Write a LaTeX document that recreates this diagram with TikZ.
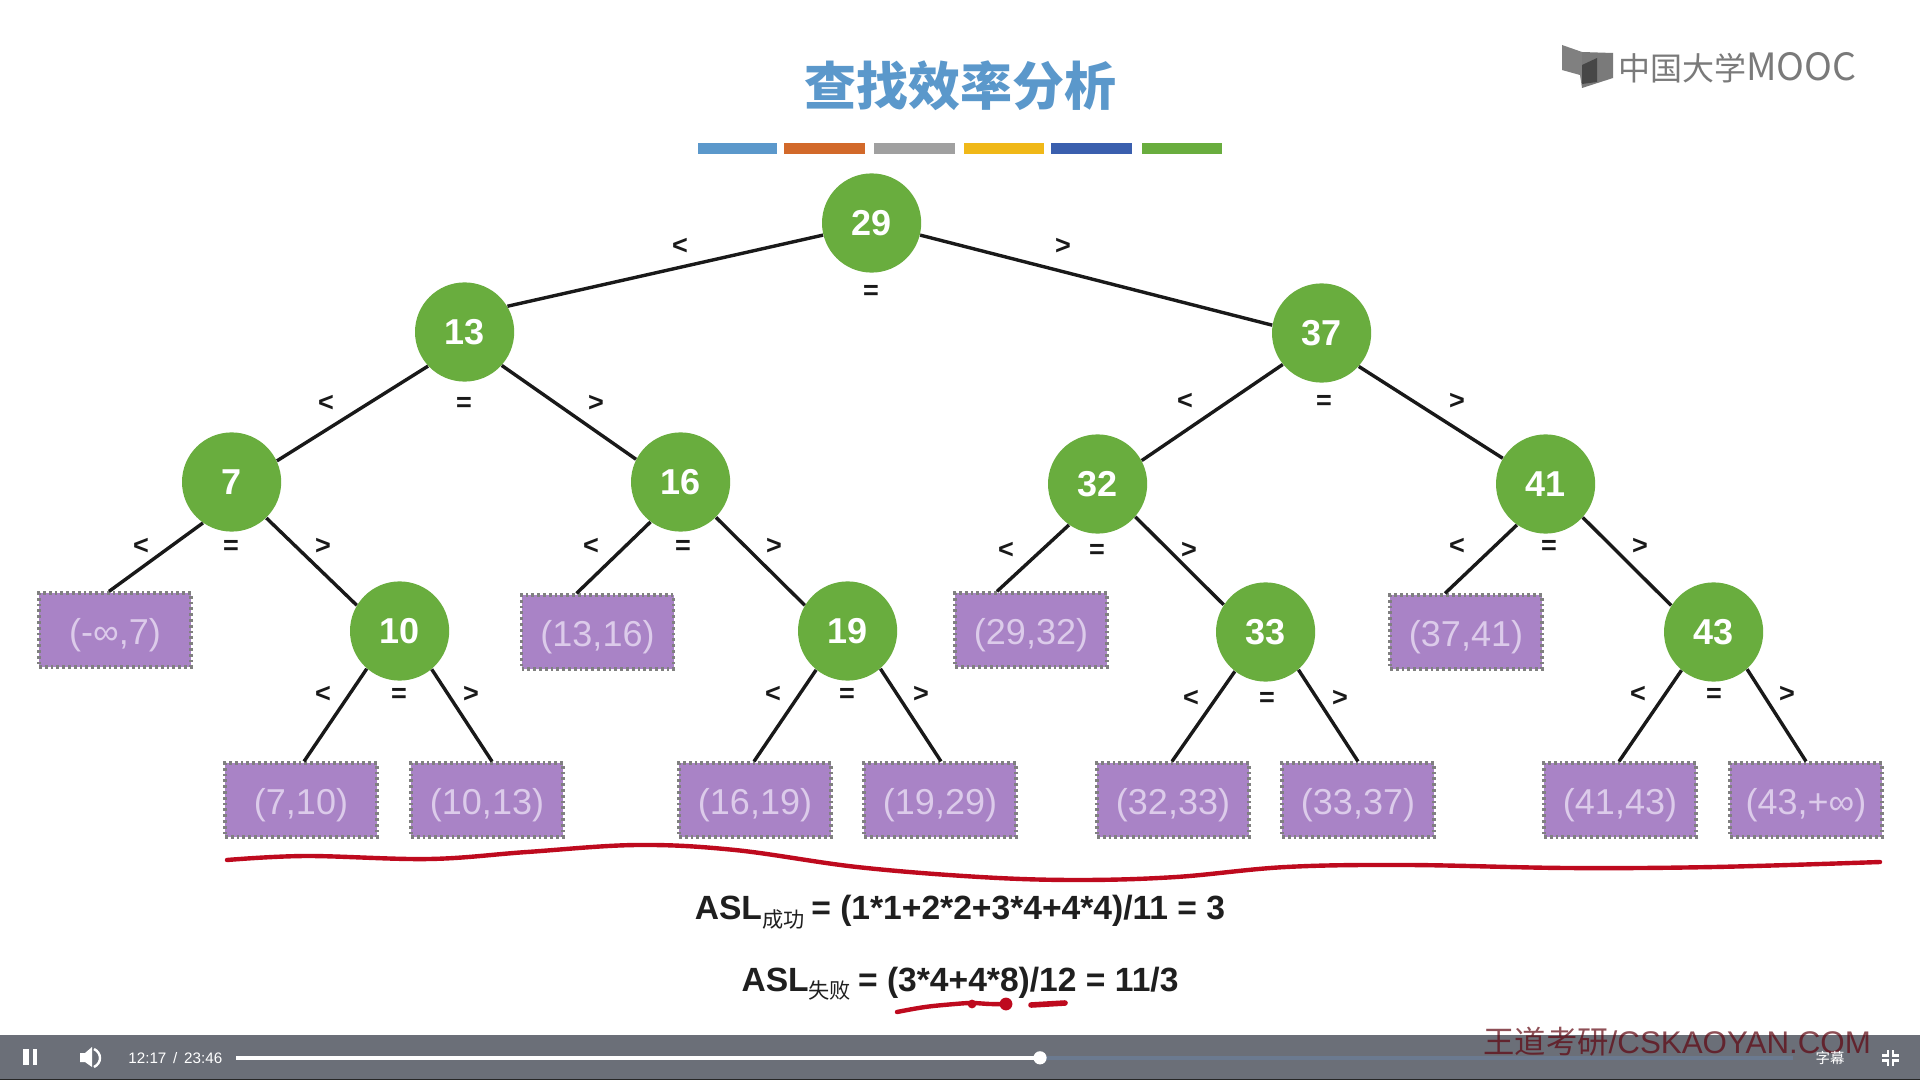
\documentclass[tikz,border=0pt]{standalone}
\usepackage{fontspec}
\setmainfont{Liberation Sans}
\newfontfamily\cjkfont{Noto Sans CJK SC}
\usetikzlibrary{calc}
\definecolor{nodegreen}{HTML}{69AD3E}
\definecolor{leafpurple}{HTML}{A983C6}
\definecolor{leaftext}{HTML}{DCCBEA}
\definecolor{barbg}{HTML}{6B6F78}
\definecolor{barrest}{HTML}{6B7A90}
\definecolor{penred}{HTML}{BE0A1E}
\definecolor{titleblue}{HTML}{5B98CB}
\newcommand{\leaftxt}[1]{\raisebox{-7.2pt}[0pt][0pt]{#1}}
\newcommand{\subcjk}[1]{\raisebox{-3.8pt}{\cjkfont\mdseries\fontsize{10.6}{12}\selectfont #1}\hspace{-1.2pt}}
\tikzset{
  treenode/.style={circle,fill=nodegreen,text=white,minimum size=49.6pt,inner sep=0pt,font=\bfseries\fontsize{18}{20}\selectfont},
  leaf/.style={rectangle,fill=leafpurple,draw=black!50,dash pattern=on 1.4pt off 1.5pt,line width=1.6pt,text=leaftext,minimum width=76pt,minimum height=37pt,inner sep=0pt,font=\fontsize{18}{20}\selectfont},
  sym/.style={inner sep=0pt,yshift=-0.8pt,text=black!90,font=\bfseries\fontsize{13.5}{14}\selectfont},
  link/.style={line width=1.7pt,black!90},
  pen/.style={penred,line cap=round,line join=round},
  formula/.style={inner sep=0pt,text=black!88,font=\bfseries\fontsize{16.8}{18}\selectfont},
  ctrl/.style={inner sep=0pt,text=white},
}
\begin{document}
\begin{tikzpicture}[x=0.5pt,y=-0.5pt]
\useasboundingbox (0,0) rectangle (1920,1080);
\fill[white] (0,0) rectangle (1920,1080);

% title and colour bars
\node[inner sep=0pt,text=titleblue,font=\cjkfont\bfseries\fontsize{26}{28}\selectfont] (title) at (960,86) {查找效率分析};
\foreach \n/\a/\b/\c in {a/698/777/5B98CB,b/784/865/D2692A,c/874/955/A0A0A0,d/964/1044/F0B818,e/1051/1132/3A5FAE,f/1142/1222/69AD3E}{
  \definecolor{swc}{HTML}{\c}
  \fill[swc] (\a,143) rectangle (\b,154);
}

% logo
\fill[black!50] (1562,45) -- (1582,52) -- (1582,88) -- (1580,75) -- (1562,70) -- cycle;
\fill[black!52] (1582,52) -- (1613,53) -- (1613,78) -- (1582,88) -- cycle;
\fill[black!72] (1582,65) -- (1597,58) -- (1597,82) -- (1582,84) -- cycle;
\node[anchor=west,inner sep=0pt,text=black!52,font=\cjkfont\fontsize{16}{18}\selectfont] (logotext) at (1618,68) {中国大学\fontsize{18.8}{20}\selectfont MOOC};

% tree nodes
\node[treenode] (n29) at (871.6,223) {29};
\node[treenode] (n13) at (464.6,332) {13};
\node[treenode] (n37) at (1321.6,333) {37};
\node[treenode] (n7)  at (231.6,482) {7};
\node[treenode] (n16) at (680.6,482) {16};
\node[treenode] (n32) at (1097.6,484) {32};
\node[treenode] (n41) at (1545.6,484) {41};
\node[treenode] (n10) at (399.6,631) {10};
\node[treenode] (n19) at (847.6,631) {19};
\node[treenode] (n33) at (1265.6,632) {33};
\node[treenode] (n43) at (1713.6,632) {43};

% leaves
\node[leaf] (l0)  at (115,630)  {\leaftxt{(-∞,7)}};
\node[leaf] (l1)  at (301,800)  {\leaftxt{(7,10)}};
\node[leaf] (l2)  at (487,800)  {\leaftxt{(10,13)}};
\node[leaf] (l3)  at (597.5,632) {\leaftxt{(13,16)}};
\node[leaf] (l4)  at (755,800)  {\leaftxt{(16,19)}};
\node[leaf] (l5)  at (940,800)  {\leaftxt{(19,29)}};
\node[leaf] (l6)  at (1031,630) {\leaftxt{(29,32)}};
\node[leaf] (l7)  at (1173,800) {\leaftxt{(32,33)}};
\node[leaf] (l8)  at (1358,800) {\leaftxt{(33,37)}};
\node[leaf] (l9)  at (1466,632) {\leaftxt{(37,41)}};
\node[leaf] (l10) at (1620,800) {\leaftxt{(41,43)}};
\node[leaf] (l11) at (1806,800) {\leaftxt{(43,+∞)}};

% connectors
\foreach \a/\p/\b/\q in {n29/194.7/n13/31,n29/346/n37/171,n13/223/n7/25,n13/318/n16/153,n37/219/n32/28,n37/318/n41/149,n7/314/n10/149,n16/315/n19/149,n32/319/n33/147,n41/318/n43/148}
  \draw[link] (\a.\p) -- (\b.\q);
\foreach \a/\p/\b/\d in {n7/235.5/l0/-6,n10/229/l1/3,n10/310/l2/5,n16/233/l3/-21,n19/231/l4/-1,n19/311/l5/1,n32/235.5/l6/-34,n33/232/l7/-1,n33/311/l8/0,n41/235.5/l9/-21,n43/230/l10/-1,n43/312/l11/0}
  \draw[link] (\a.\p) -- ($(\b.north)+(\d,0)$);

% comparison marks
\foreach \n/\x/\y/\t in {
 a/680/245/<,b/871/291/=,c/1063/245/>,
 d/326/402/<,e/464/403/=,f/596/402/>,
 g/1185/400/<,h/1324/401/=,i/1457/400/>,
 j/141/545/<,k/231/546/=,l/323/545/>,
 m/591/545/<,o/683/546/=,p/774/545/>,
 q/1006/549/<,r/1097/550/=,s/1189/549/>,
 t/1457/545/<,u/1549/546/=,v/1640/545/>,
 w/323/693/<,x/399/694/=,y/471/693/>,
 z/773/693/<,aa/847/694/=,ab/921/693/>,
 ac/1191/697/<,ad/1267/698/=,ae/1340/697/>,
 af/1638/693/<,ag/1714/694/=,ah/1787/693/>}
  \node[sym] (s\n) at (\x,\y) {\t};

% pen strokes
\draw[pen,line width=2.2pt] plot[smooth,tension=0.6] coordinates {(227,860) (306,856) (429,859) (527,852) (637,845) (735,850) (857,867) (980,877) (1078,880) (1176,877) (1286,867) (1408,865) (1567,868) (1714,867) (1880,862)};

% formulas
\node[formula] (f1) at (960,912.5) {ASL\subcjk{成功} = (1*1+2*2+3*4+4*4)/11 = 3};
\node[formula] (f2) at (960,983.5) {ASL\subcjk{失败} = (3*4+4*8)/12 = 11/3};
\draw[pen,line width=2.2pt] plot[smooth,tension=0.6] coordinates {(897,1012) (925,1007) (955,1004) (972,1003) (990,1004) (1006,1004)};
\fill[penred] (1006,1004) circle (3.2pt);
\fill[penred] (972,1004) circle (2.2pt);
\draw[pen,line width=2.8pt] (1031,1005) -- (1065,1003);

% player bar
\fill[barbg] (0,1035) rectangle (1920,1080);
\draw[black!85,line width=0.5pt] (0,1079.5) -- (1920,1079.5);
\fill[white] (23,1049) rectangle (29,1065);
\fill[white] (33,1049) rectangle (37,1065);
\fill[white] (80,1053) -- (85,1053) -- (92,1047) -- (92,1067) -- (85,1062) -- (80,1062) -- cycle;
\draw[white,line width=1.2pt] (94,1049) .. controls (102,1053) and (102,1063) .. (94,1067);
\node[anchor=west,ctrl,font=\fontsize{7.6}{9}\selectfont] (time) at (128,1058) {12:17 \,/\, 23:46};
\fill[barrest] (1040,1055.5) rectangle (1793,1060);
\fill[white] (236,1055.5) rectangle (1040,1060);
\fill[white] (1040,1057.8) circle (3.3pt);
\node[anchor=west,inner sep=0pt,text=penred!50!black,opacity=0.7,font=\fontsize{15.66}{18}\selectfont] (mark) at (1483,1042) {{\cjkfont 王道考研}/CSKAOYAN.COM};
\node[ctrl,font=\cjkfont\fontsize{7.2}{8}\selectfont] (sub) at (1830,1058) {字幕};
\draw[white,line width=1.2pt] (1888,1050) -- (1888,1055.5) -- (1882,1055.5)
  (1893,1050) -- (1893,1055.5) -- (1899,1055.5)
  (1888,1066) -- (1888,1060.5) -- (1882,1060.5)
  (1893,1066) -- (1893,1060.5) -- (1899,1060.5);
\end{tikzpicture}
\end{document}
